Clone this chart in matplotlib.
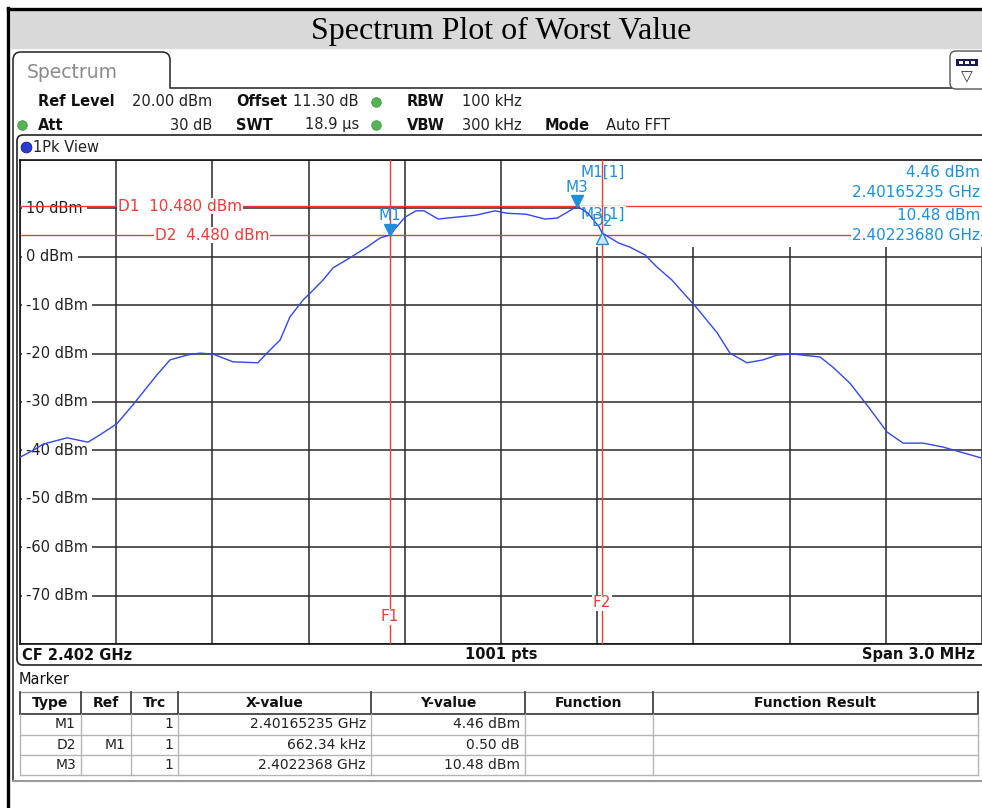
import numpy as np
import matplotlib.pyplot as plt
from matplotlib.patches import Rectangle, FancyBboxPatch, PathPatch
from matplotlib.path import Path
from matplotlib import transforms

plt.rcParams['font.family'] = ['DejaVu Sans']

title = 'Spectrum Plot of Worst Value'

# trace: frequency (MHz) and level (dBm)
freq_mhz = [2400.500, 2400.541, 2400.572, 2400.647, 2400.712, 2400.749, 2400.802,
            2400.852, 2400.927, 2400.968, 2401.021, 2401.061, 2401.102, 2401.164,
            2401.242, 2401.270, 2401.311, 2401.342, 2401.383, 2401.414, 2401.445,
            2401.476, 2401.529, 2401.582, 2401.623, 2401.652, 2401.701, 2401.735,
            2401.760, 2401.804, 2401.832, 2401.922, 2401.981, 2402.019, 2402.078,
            2402.137, 2402.175, 2402.209, 2402.237, 2402.271, 2402.306, 2402.315,
            2402.365, 2402.402, 2402.449, 2402.486, 2402.533, 2402.580, 2402.611,
            2402.674, 2402.714, 2402.767, 2402.817, 2402.861, 2402.911, 2402.995,
            2403.035, 2403.088, 2403.141, 2403.204, 2403.254, 2403.316, 2403.378,
            2403.431, 2403.500]
level_dbm = [-41.4, -40.0, -38.7, -37.4, -38.3, -36.8, -34.5,
             -30.6, -24.4, -21.3, -20.3, -19.9, -20.1, -21.7,
             -21.9, -19.9, -17.2, -12.4, -8.9, -6.9, -4.8,
             -2.3, -0.2, 2.0, 3.9, 4.46, 8.2, 9.5,
             9.5, 7.8, 8.0, 8.6, 9.5, 9.0, 8.8,
             7.8, 8.0, 9.3, 10.48, 9.0, 6.2, 4.96,
             2.9, 2.0, 0.4, -2.1, -4.8, -8.3, -10.6,
             -15.7, -19.9, -21.9, -21.3, -20.3, -20.1, -20.7,
             -22.8, -26.1, -30.6, -36.2, -38.5, -38.5, -39.3,
             -40.3, -41.6]

center_mhz = 2402.0
span_mhz = 3.0
ref_level = 20.0
bottom_level = -80.0
level_labels = [10, 0, -10, -20, -30, -40, -50, -60, -70]

m1_freq = 2401.65235
m1_level = 4.46
m3_freq = 2402.2368
m3_level = 10.48
d2_delta_khz = 662.34
d2_delta_db = 0.50
d1_line = 10.48
d2_line = 4.48

setup_bold = [('Ref Level', 38, 102), ('Offset', 236, 102), ('RBW', 407, 102),
              ('Att', 38, 125), ('SWT', 236, 125), ('VBW', 407, 125), ('Mode', 545, 125)]
setup_right = [('20.00 dBm', 212, 102), ('11.30 dB', 359, 102),
               ('30 dB', 212, 125), ('18.9 µs', 359, 125)]
setup_left = [('100 kHz', 462, 102), ('300 kHz', 462, 125), ('Auto FFT', 606, 125)]

table_cols = ['Type', 'Ref', 'Trc', 'X-value', 'Y-value', 'Function', 'Function Result']
table_rows = [['M1', '', '1', '2.40165235 GHz', '4.46 dBm', '', ''],
              ['D2', 'M1', '1', '662.34 kHz', '0.50 dB', '', ''],
              ['M3', '', '1', '2.4022368 GHz', '10.48 dBm', '', '']]

red = '#f43a3a'
mblue = '#1d8fdb'
W, H = 982, 808

fig = plt.figure(figsize=(W / 100, H / 100), dpi=100)
bg = fig.add_axes([0, 0, 1, 1])
bg.set_xlim(0, W)
bg.set_ylim(H, 0)
bg.axis('off')

# outer border and title band
bg.plot([8.5, 8.5], [8, H], color='black', lw=2.4)
bg.plot([8, W], [9, 9], color='black', lw=2.4)
bg.add_patch(Rectangle((11, 11), W - 11, 37, color='#d9d9d9'))
bg.text(501, 31, title, ha='center', va='center', fontsize=23, family='Liberation Serif')

# tab outline
r = 8
verts = [(13, 782), (13, 52 + r), (13, 52), (13 + r, 52), (170 - r, 52), (170, 52),
         (170, 52 + r), (170, 88), (W + 5, 88)]
codes = [Path.MOVETO, Path.LINETO, Path.CURVE3, Path.CURVE3, Path.LINETO,
         Path.CURVE3, Path.CURVE3, Path.LINETO, Path.LINETO]
bg.add_patch(PathPatch(Path(verts, codes), fc='none', ec='#222222', lw=1.1))
bg.text(27, 72, 'Spectrum', ha='left', va='center', fontsize=13.5, color='#8a8a8a')

# icon top right
bg.add_patch(FancyBboxPatch((950, 51), 40, 38, boxstyle='round,pad=0,rounding_size=6',
                            fc='white', ec='#555555', lw=1))
bg.add_patch(Rectangle((956, 59), 22, 7, fc='#1c1c4c', ec='none'))
for cx in [959, 965, 971]:
    bg.add_patch(Rectangle((cx, 61), 4, 3, fc='white', ec='none'))
bg.text(967, 77, '▽', ha='center', va='center', fontsize=11, color='#333333')

# setup info
for s, x, y in setup_bold:
    bg.text(x, y, s, ha='left', va='center', fontsize=10.5, weight='bold', color='#111111')
for s, x, y in setup_right:
    bg.text(x, y, s, ha='right', va='center', fontsize=10.5, color='#222222')
for s, x, y in setup_left:
    bg.text(x, y, s, ha='left', va='center', fontsize=10.5, color='#222222')
bg.scatter([376, 376, 22], [102, 125, 125], s=48, color='#55b255', edgecolors='#3d8f3d',
           linewidths=0.5, zorder=3)

# view frame
bg.add_patch(FancyBboxPatch((17, 135), W, 530, boxstyle='round,pad=0,rounding_size=6',
                            fc='none', ec='#222222', lw=1.2))
bg.scatter([26], [147], s=60, color='#2a3bd6', edgecolors='#101a80', linewidths=0.6, zorder=3)
bg.text(33, 147, '1Pk View', ha='left', va='center', fontsize=10.5, color='#222222')

bg.text(22, 655, f'CF {center_mhz / 1000:.3f} GHz', ha='left', va='center',
        fontsize=10.5, weight='bold', color='#111111')
bg.text(501, 655, '1001 pts', ha='center', va='center', fontsize=10.5, weight='bold',
        color='#111111')
bg.text(975, 655, f'Span {span_mhz:.1f} MHz', ha='right', va='center', fontsize=10.5,
        weight='bold', color='#111111')

# marker table
bg.text(19, 680, 'Marker', ha='left', va='center', fontsize=10.5, color='#111111')
col_edges = [20, 81, 131, 178, 371, 525, 653, 978]
row_edges = [692, 714, 735, 755, 775]
bg.plot([20, 978], [692, 692], color='#9a9a9a', lw=1)
bg.plot([20, 978], [714, 714], color='#333333', lw=1.2)
for y in row_edges[2:]:
    bg.plot([20, 978], [y, y], color='#b5b5b5', lw=1)
for x in col_edges:
    bg.plot([x, x], [692, 714], color='#333333', lw=1.2)
    bg.plot([x, x], [714, 775], color='#b5b5b5', lw=1)
bg.plot([13, W], [781, 781], color='#9a9a9a', lw=1.5)
for i, name in enumerate(table_cols):
    bg.text((col_edges[i] + col_edges[i + 1]) / 2, 703, name, ha='center', va='center',
            fontsize=10, weight='bold', color='#111111')
for j, row in enumerate(table_rows):
    yc = (row_edges[j + 1] + row_edges[j + 2]) / 2
    for i, val in enumerate(row):
        bg.text(col_edges[i + 1] - 5, yc, val, ha='right', va='center', fontsize=10,
                color='#222222')

# spectrum plot
ax = fig.add_axes([20 / W, 1 - 644 / H, (W - 20) / W, 484 / H])
x0 = center_mhz - span_mhz / 2
x1 = center_mhz + span_mhz / 2
ax.set_xlim(x0, x1)
ax.set_ylim(bottom_level, ref_level)
ax.set_xticks(np.linspace(x0, x1, 11))
ax.set_yticks(np.arange(bottom_level, ref_level + 1, 10))
ax.grid(True, color='#2a2a2a', lw=1.1)
ax.set_axisbelow(True)
ax.tick_params(length=0, labelbottom=False, labelleft=False)
ax.spines['right'].set_visible(False)
for s in ['top', 'bottom', 'left']:
    ax.spines[s].set_color('#111111')
    ax.spines[s].set_linewidth(1.2)

# marker info area covers the grid
ax.add_patch(Rectangle((0.582, 0.82), 0.418, 0.18, transform=ax.transAxes,
                       fc='white', ec='none', zorder=1))

ytr = ax.get_yaxis_transform()
xtr = ax.get_xaxis_transform()
for v in level_labels:
    ax.text(6 / 962, v, f'{v} dBm', transform=ytr, ha='left', va='center', fontsize=10.5,
            color='#222222', bbox=dict(fc='white', ec='none', pad=3), zorder=3)

ax.axhline(d1_line, color=red, lw=1, zorder=3.2)
ax.axhline(d2_line, color=red, lw=1, zorder=2)
ax.text(0.102, d1_line, f'D1  {d1_line:.3f} dBm', transform=ytr, ha='left', va='center',
        fontsize=11, color=red, bbox=dict(fc='white', ec='none', pad=0.5), zorder=3.3)
ax.text(0.140, d2_line, f'D2  {d2_line:.3f} dBm', transform=ytr, ha='left', va='center',
        fontsize=11, color=red, bbox=dict(fc='white', ec='none', pad=0.5), zorder=3)

d2_freq = m1_freq + d2_delta_khz / 1000
d2_level = m1_level + d2_delta_db
ax.axvline(m1_freq, color=red, lw=1, zorder=3.5)
ax.axvline(d2_freq, color=red, lw=1, zorder=3.5)
ax.text(m1_freq, 0.056, 'F1', transform=xtr, ha='center', va='center', fontsize=11,
        color=red, bbox=dict(fc='white', ec='none', pad=0.5), zorder=3.6)
ax.text(d2_freq, 0.085, 'F2', transform=xtr, ha='center', va='center', fontsize=11,
        color=red, bbox=dict(fc='white', ec='none', pad=0.5), zorder=3.6)

ax.plot(freq_mhz, level_dbm, color='#3247ee', lw=1, zorder=4)


def shifted(dy):
    return transforms.offset_copy(ax.transData, fig=fig, x=0, y=dy, units='dots')


ax.plot([m1_freq], [m1_level], marker='v', ms=8, color=mblue, ls='none',
        transform=shifted(5), zorder=5)
ax.plot([m3_freq], [m3_level], marker='v', ms=8, color=mblue, ls='none',
        transform=shifted(5), zorder=5)
ax.plot([d2_freq], [d2_level], marker='^', ms=8, mfc='#cfe6f7', mec=mblue, ls='none',
        transform=shifted(-5), zorder=5)
ax.text(m1_freq, m1_level, 'M1', transform=shifted(20), ha='center', va='center',
        fontsize=11, color=mblue, zorder=5)
ax.text(m3_freq, m3_level, 'M3', transform=shifted(19), ha='center', va='center',
        fontsize=11, color=mblue, zorder=5)
ax.text(d2_freq, d2_level, 'D2', transform=shifted(11), ha='center', va='center',
        fontsize=11, color=mblue, zorder=5)

info_box = dict(fc='white', ec='none', pad=0.5)
ax.text(0.583, 0.975, 'M1[1]', transform=ax.transAxes, ha='left', va='center',
        fontsize=11, color=mblue, bbox=info_box, zorder=3.4)
ax.text(0.998, 0.975, f'{m1_level:.2f} dBm', transform=ax.transAxes, ha='right',
        va='center', fontsize=11, color=mblue, bbox=info_box, zorder=3.4)
ax.text(0.998, 0.932, f'{m1_freq / 1000:.8f} GHz', transform=ax.transAxes, ha='right',
        va='center', fontsize=11, color=mblue, bbox=info_box, zorder=3.4)
ax.text(0.583, 0.888, 'M3[1]', transform=ax.transAxes, ha='left', va='center',
        fontsize=11, color=mblue, bbox=info_box, zorder=3.4)
ax.text(0.998, 0.886, f'{m3_level:.2f} dBm', transform=ax.transAxes, ha='right',
        va='center', fontsize=11, color=mblue, bbox=info_box, zorder=3.4)
ax.text(0.998, 0.843, f'{m3_freq / 1000:.8f} GHz', transform=ax.transAxes, ha='right',
        va='center', fontsize=11, color=mblue, bbox=info_box, zorder=3.4)

fig.savefig('out.png', dpi=100)
